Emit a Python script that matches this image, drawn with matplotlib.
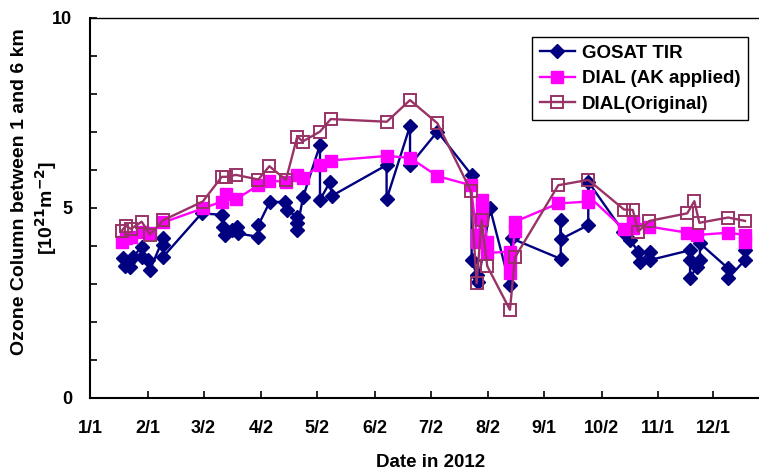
import matplotlib
matplotlib.use("Agg")
import matplotlib.pyplot as plt
import datetime as dt

plt.rcParams['font.family'] = ['Liberation Sans', 'DejaVu Sans']
plt.rcParams['font.weight'] = 'bold'

# ---- data (day offset from 2012-01-01, value in 1e21 m^-2) ----
gosat_day = [17.9, 18.8, 20.6, 21.5, 23.3, 27.8, 27.8, 31.3, 32.2, 39.4, 39.4, 39.4,
             60.0, 70.8, 71.7, 72.6, 76.1, 78.8, 79.7, 90.5, 90.5, 96.7, 104.8, 105.7,
             111.1, 111.1, 111.1, 114.6, 123.6, 123.6, 129.0, 130.0, 159.4, 159.4,
             172.0, 172.0, 186.7, 205.1, 205.1, 207.8, 208.7, 215.0, 225.7, 226.6,
             253.0, 253.0, 253.0, 267.8, 267.8, 286.6, 290.2, 294.7, 295.6, 300.9,
             300.9, 322.5, 322.5, 322.5, 326.0, 327.8, 327.8, 343.0, 343.0, 352.0, 352.0]
gosat_val = [3.68, 3.47, 3.59, 3.45, 3.72, 3.98, 3.72, 3.63, 3.37, 4.20, 4.03, 3.72,
             4.86, 4.82, 4.51, 4.29, 4.42, 4.51, 4.33, 4.24, 4.55, 5.17, 5.15, 4.95,
             4.77, 4.60, 4.42, 5.30, 6.66, 5.21, 5.69, 5.32, 6.13, 5.23,
             7.16, 6.13, 7.01, 5.87, 3.63, 3.24, 3.06, 4.99, 2.97, 4.20,
             3.66, 4.68, 4.18, 4.55, 5.69, 4.38, 4.16, 3.85, 3.59, 3.85,
             3.63, 3.89, 3.63, 3.15, 3.45, 3.63, 4.07, 3.41, 3.15, 3.63, 3.89]

ak_day = [17.0, 19.2, 22.0, 27.8, 32.2, 39.4, 60.6, 70.8, 72.9, 78.5, 90.5, 96.4,
          105.3, 111.4, 114.3, 123.6, 129.4, 159.5, 172.0, 186.7, 204.6, 207.8, 207.8,
          210.5, 210.5, 210.5, 213.5, 213.5, 225.7, 225.7, 225.7, 228.4, 228.4, 251.7,
          267.8, 267.8, 287.0, 291.7, 291.7, 300.6, 321.0, 326.4, 343.0, 352.0, 352.0]
ak_val = [4.11, 4.21, 4.25, 4.38, 4.34, 4.62, 4.99, 5.17, 5.38, 5.23, 5.60, 5.72,
          5.69, 5.87, 5.78, 6.13, 6.25, 6.37, 6.32, 5.84, 5.60, 4.30, 4.10,
          4.75, 5.00, 5.20, 4.10, 3.82, 3.85, 3.60, 3.30, 4.40, 4.64, 5.12,
          5.17, 5.32, 4.44, 4.47, 4.64, 4.51, 4.35, 4.29, 4.35, 4.29, 4.11]

orig_day = [17.0, 19.2, 22.0, 27.8, 32.2, 39.4, 60.6, 70.8, 72.9, 78.5, 90.5, 96.4,
            105.3, 111.4, 114.3, 123.6, 129.4, 159.5, 172.0, 186.7, 204.6, 207.8,
            210.5, 213.5, 225.7, 228.4, 251.7, 267.8, 287.0, 291.7, 294.7, 300.6,
            321.0, 324.8, 327.5, 343.0, 352.0]
orig_val = [4.40, 4.53, 4.45, 4.64, 4.30, 4.68, 5.17, 5.82, 5.82, 5.87, 5.75, 6.10,
            5.74, 6.88, 6.75, 7.01, 7.34, 7.27, 7.84, 7.23, 5.46, 3.02,
            4.68, 3.47, 2.32, 3.70, 5.60, 5.74, 4.96, 4.95, 4.38, 4.66,
            4.86, 5.18, 4.61, 4.75, 4.66]

tick_labels = ['1/1', '2/1', '3/2', '4/2', '5/2', '6/2', '7/2', '8/2', '9/1', '10/2', '11/1', '12/1']
series_labels = ['GOSAT TIR', 'DIAL (AK applied)', 'DIAL(Original)']

start = dt.date(2012, 1, 1)
tick_pos = [(dt.date(2012, int(s.split('/')[0]), int(s.split('/')[1])) - start).days for s in tick_labels]

W, H = 759, 475
fig = plt.figure(figsize=(W / 100, H / 100), dpi=100)
ax = fig.add_axes([90 / W, 1 - 398 / H, (771 - 90) / W, (398 - 18) / H])

navy = '#000080'
mag = '#FF00FF'
plum = '#993366'

ax.plot(gosat_day, gosat_val, color=navy, lw=1.7, marker='D', ms=7.2,
        mfc=navy, mec=navy, label=series_labels[0], zorder=3)
ax.plot(ak_day, ak_val, color=mag, lw=1.7, marker='s', ms=8.8,
        mfc=mag, mec=mag, label=series_labels[1], zorder=4)
ax.plot(orig_day, orig_val, color=plum, lw=1.7, marker='s', ms=8.0,
        mfc='none', mec=plum, mew=1.4, label=series_labels[2], zorder=5)

ax.set_xlim(0, 366)
ax.set_ylim(0, 10)
ax.set_xticks(tick_pos)
ax.set_xticklabels(tick_labels)
ax.set_yticks([0, 5, 10])
ax.set_yticks(range(0, 11), minor=True)
ax.tick_params(axis='both', which='both', direction='in', labelsize=13, width=1.2)
ax.tick_params(axis='x', which='major', length=5, pad=16)
ax.tick_params(axis='y', which='both', length=5, pad=13)
for s in ['left', 'bottom']:
    ax.spines[s].set_linewidth(1.5)
ax.spines['top'].set_linewidth(1.0)
ax.spines['right'].set_linewidth(1.0)

ax.set_xlabel('Date in 2012', fontsize=13.5, fontweight='bold', labelpad=12)
fig.text(20 / W, 1 - 192 / H, 'Ozone Column between 1 and 6 km', rotation=90,
         fontsize=14, fontweight='bold', ha='center', va='center')
fig.text(46 / W, 1 - 208 / H, r'[10$^{\mathbf{21}}$m$^{\mathbf{-2}}$]', rotation=90,
         fontsize=14, fontweight='bold', ha='center', va='center')

leg = ax.legend(loc='upper left', bbox_to_anchor=(532 / W, 1 - 37 / H),
                bbox_transform=fig.transFigure, fontsize=13.5, frameon=True,
                fancybox=False, edgecolor='black', framealpha=1,
                handlelength=1.9, handletextpad=0.35, labelspacing=0.45,
                borderpad=0.4, borderaxespad=0)
leg.get_frame().set_linewidth(1.0)
for t in leg.get_texts():
    t.set_fontweight('bold')

fig.savefig('out.png', dpi=100)
